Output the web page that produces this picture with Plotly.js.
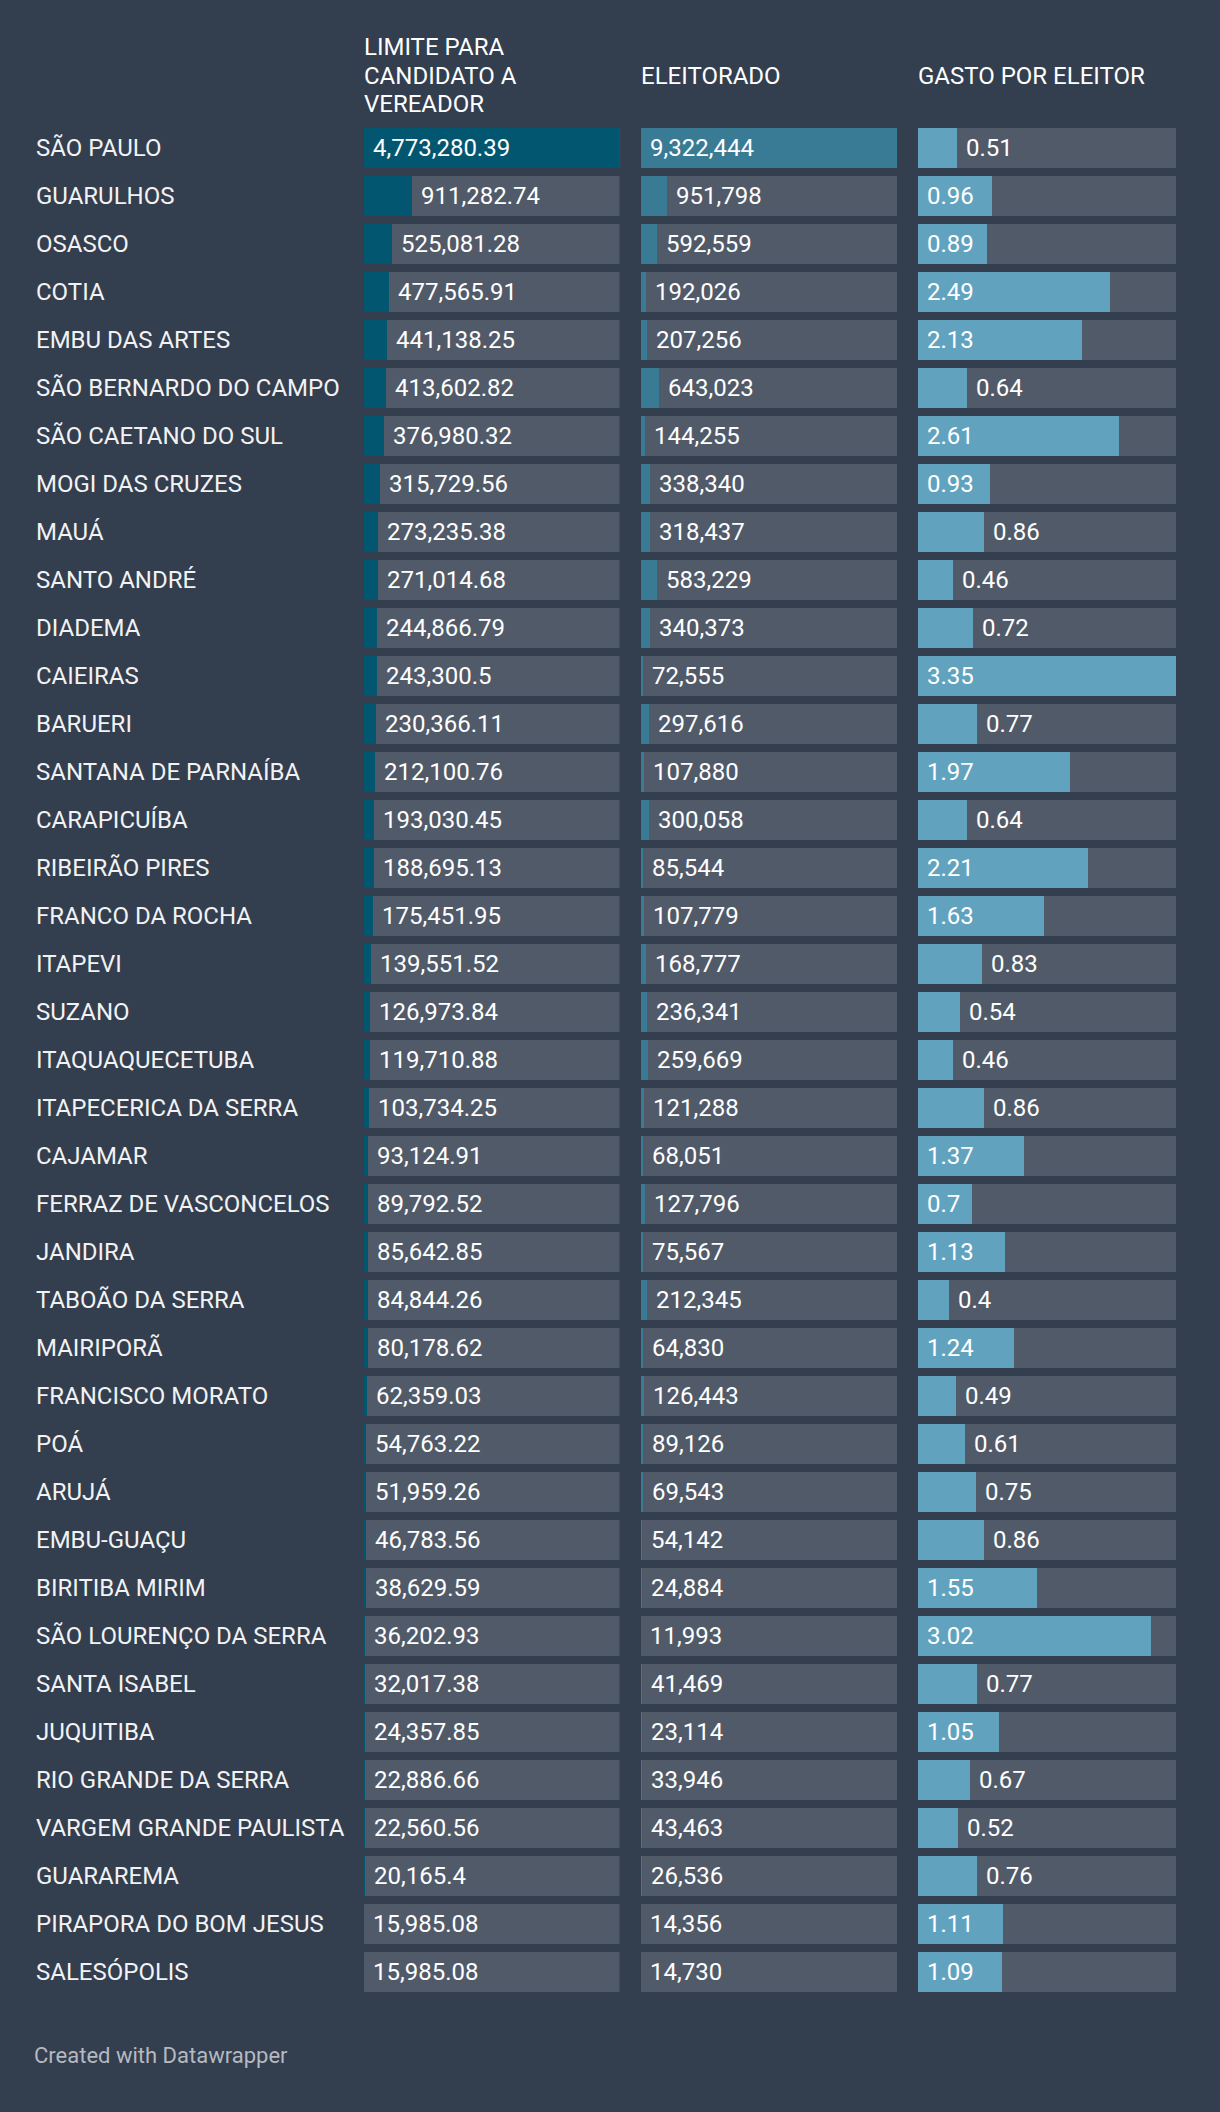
<!DOCTYPE html>
<html>
<head>
<meta charset="utf-8">
<script src="https://cdn.plot.ly/plotly-3.0.1.min.js"></script>
<style>
  html, body { margin: 0; padding: 0; background: #333e4f; }
  #chart { width: 1220px; height: 2112px; }
</style>
</head>
<body>
<div id="chart"></div>
<script>
const municipios = [
  "SÃO PAULO", "GUARULHOS", "OSASCO", "COTIA", "EMBU DAS ARTES",
  "SÃO BERNARDO DO CAMPO", "SÃO CAETANO DO SUL", "MOGI DAS CRUZES", "MAUÁ", "SANTO ANDRÉ",
  "DIADEMA", "CAIEIRAS", "BARUERI", "SANTANA DE PARNAÍBA", "CARAPICUÍBA",
  "RIBEIRÃO PIRES", "FRANCO DA ROCHA", "ITAPEVI", "SUZANO", "ITAQUAQUECETUBA",
  "ITAPECERICA DA SERRA", "CAJAMAR", "FERRAZ DE VASCONCELOS", "JANDIRA", "TABOÃO DA SERRA",
  "MAIRIPORÃ", "FRANCISCO MORATO", "POÁ", "ARUJÁ", "EMBU-GUAÇU",
  "BIRITIBA MIRIM", "SÃO LOURENÇO DA SERRA", "SANTA ISABEL", "JUQUITIBA", "RIO GRANDE DA SERRA",
  "VARGEM GRANDE PAULISTA", "GUARAREMA", "PIRAPORA DO BOM JESUS", "SALESÓPOLIS"
];
const limiteVereador = [
  4773280.39, 911282.74, 525081.28, 477565.91, 441138.25,
  413602.82, 376980.32, 315729.56, 273235.38, 271014.68,
  244866.79, 243300.5, 230366.11, 212100.76, 193030.45,
  188695.13, 175451.95, 139551.52, 126973.84, 119710.88,
  103734.25, 93124.91, 89792.52, 85642.85, 84844.26,
  80178.62, 62359.03, 54763.22, 51959.26, 46783.56,
  38629.59, 36202.93, 32017.38, 24357.85, 22886.66,
  22560.56, 20165.4, 15985.08, 15985.08
];
const eleitorado = [
  9322444, 951798, 592559, 192026, 207256,
  643023, 144255, 338340, 318437, 583229,
  340373, 72555, 297616, 107880, 300058,
  85544, 107779, 168777, 236341, 259669,
  121288, 68051, 127796, 75567, 212345,
  64830, 126443, 89126, 69543, 54142,
  24884, 11993, 41469, 23114, 33946,
  43463, 26536, 14356, 14730
];
const gastoPorEleitor = [
  0.51, 0.96, 0.89, 2.49, 2.13,
  0.64, 2.61, 0.93, 0.86, 0.46,
  0.72, 3.35, 0.77, 1.97, 0.64,
  2.21, 1.63, 0.83, 0.54, 0.46,
  0.86, 1.37, 0.7, 1.13, 0.4,
  1.24, 0.49, 0.61, 0.75, 0.86,
  1.55, 3.02, 0.77, 1.05, 0.67,
  0.52, 0.76, 1.11, 1.09
];
const colunas = ["LIMITE PARA<br>CANDIDATO A<br>VEREADOR", "ELEITORADO", "GASTO POR ELEITOR"];
const rodape = "Created with Datawrapper";

// ---- styling ----
const W = 1220, H = 2112;
const BG = "#333e4f", TRACK = "#515a69";
const COLORS = ["#02566f", "#397b95", "#61a3bf"];
const FONT = "Roboto, 'Open Sans', sans-serif";
const FS = 24;
const colPx = [[363.5, 619.5], [641, 897], [918, 1176]];
const rowTop = 128, rowPitch = 48, barH = 40;
const headerMid = 76, headerLine = 28.5;
const yIdx = municipios.map((_, i) => i);
const firstCenter = rowTop + barH / 2;
const yRange = [(H - firstCenter) / rowPitch, -firstCenter / rowPitch];

const series = [limiteVereador, eleitorado, gastoPorEleitor];
const fmt = v => v.toLocaleString("en-US", { maximumFractionDigits: 2 });

const cv = document.createElement("canvas").getContext("2d");
cv.font = FS + "px Roboto";
function textWidth(s) {
  return cv.measureText(s).width;
}

const traces = [];
const annotations = [];
series.forEach((vals, c) => {
  const xa = c === 0 ? "x" : "x" + (c + 1);
  const maxV = Math.max(...vals);
  traces.push({
    type: "bar", orientation: "h", xaxis: xa, yaxis: "y",
    y: yIdx, x: vals.map(() => maxV), width: barH / rowPitch,
    marker: { color: TRACK, line: { width: 0 } }, hoverinfo: "skip", showlegend: false
  });
  traces.push({
    type: "bar", orientation: "h", xaxis: xa, yaxis: "y",
    y: yIdx, x: vals, width: barH / rowPitch,
    marker: { color: COLORS[c], line: { width: 0 } }, showlegend: false
  });
  const pxPerUnit = (colPx[c][1] - colPx[c][0]) / maxV;
  vals.forEach((v, i) => {
    const s = fmt(v);
    const barPx = v * pxPerUnit;
    const inside = barPx - textWidth(s) >= 20;
    annotations.push({
      xref: xa, yref: "y", x: inside ? 0 : v, y: i, text: s,
      xanchor: "left", yanchor: "middle", xshift: 9, showarrow: false,
      borderpad: 0, borderwidth: 0,
      font: { family: FONT, size: FS, color: "#ffffff" }
    });
  });
  const lines = colunas[c].split("<br>");
  lines.forEach((ln, j) => {
    const yPx = headerMid + (j - (lines.length - 1) / 2) * headerLine;
    annotations.push({
      xref: "paper", yref: "paper", x: colPx[c][0] / W, y: 1 - yPx / H,
      text: ln, xanchor: "left", yanchor: "middle", align: "left",
      showarrow: false, borderpad: 0, borderwidth: 0,
      font: { family: FONT, size: FS, color: "#ffffff" }
    });
  });
});

municipios.forEach((m, i) => {
  annotations.push({
    xref: "paper", yref: "y", x: 36 / W, y: i, text: m,
    xanchor: "left", yanchor: "middle", showarrow: false,
    borderpad: 0, borderwidth: 0,
    font: { family: FONT, size: FS, color: "#f2f2f2" }
  });
});

annotations.push({
  xref: "paper", yref: "paper", x: 34 / W, y: 1 - 2055 / H,
  text: rodape, xanchor: "left", yanchor: "middle", showarrow: false,
  borderpad: 0, borderwidth: 0,
  font: { family: FONT, size: 22, color: "#b5b9c0" }
});

function axisX(c) {
  return {
    domain: [colPx[c][0] / W, colPx[c][1] / W],
    range: [0, Math.max(...series[c])],
    visible: false, fixedrange: true, anchor: "y"
  };
}

const layout = {
  width: W, height: H,
  margin: { l: 0, r: 0, t: 0, b: 0, pad: 0 },
  paper_bgcolor: BG, plot_bgcolor: "rgba(0,0,0,0)",
  barmode: "overlay", bargap: 0,
  showlegend: false,
  xaxis: axisX(0), xaxis2: axisX(1), xaxis3: axisX(2),
  yaxis: { domain: [0, 1], range: yRange, visible: false, fixedrange: true },
  annotations: annotations,
  font: { family: FONT }
};

Plotly.newPlot("chart", traces, layout, { staticPlot: true, displayModeBar: false });
</script>
</body>
</html>
